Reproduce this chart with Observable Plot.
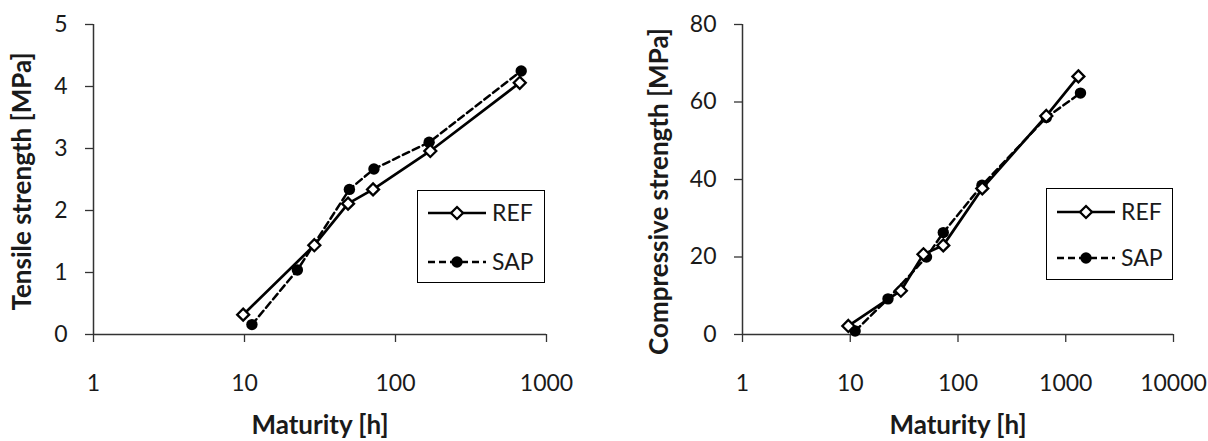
<!DOCTYPE html>
<html><head><meta charset="utf-8">
<script src="https://cdn.jsdelivr.net/npm/d3@7"></script>
<script src="https://cdn.jsdelivr.net/npm/@observablehq/plot@0.6"></script>
<style>
body{margin:0;background:#fff;}
#wrap{position:relative;width:1208px;height:441px;font-family:Lato,sans-serif;overflow:hidden;}
.panel{position:absolute;top:0;}
.legend{position:absolute;border:1.5px solid #000;background:#fff;box-sizing:border-box;}
.legend svg{display:block;}
</style>
</head><body>
<div id="wrap"></div>
<script>
// ---- data ----
const seriesNames = ["REF", "SAP"];
const tensileRefX = [9.8, 29, 48.5, 71, 170, 665];
const tensileRefY = [0.32, 1.44, 2.11, 2.34, 2.96, 4.06];
const tensileSapX = [11.2, 22.4, 49.5, 72, 167, 680];
const tensileSapY = [0.16, 1.04, 2.34, 2.67, 3.10, 4.25];

const compRefX = [9.6, 29.5, 47.8, 73, 168, 660, 1310];
const compRefY = [2.2, 11.3, 20.7, 23.0, 37.7, 56.4, 66.6];
const compSapX = [11.1, 22.4, 51, 73, 167, 660, 1370];
const compSapY = [0.9, 9.2, 20.0, 26.3, 38.5, 56.0, 62.3];

const xTicksLeft = [1, 10, 100, 1000];
const xTicksRight = [1, 10, 100, 1000, 10000];
const yTicksLeft = [0, 1, 2, 3, 4, 5];
const yTicksRight = [0, 20, 40, 60, 80];

const xLabel = "Maturity [h]";
const yLabelLeft = "Tensile strength [MPa]";
const yLabelRight = "Compressive strength [MPa]";

function rows(xs, ys, s) { return xs.map((x, i) => ({x, y: ys[i], s})); }

const wrap = document.getElementById("wrap");
const AX = "#333";
const TXT = "#1a1a1a";

function panel({left, width, marginLeft, marginRight, xDomain, xTicks, yDomain, yTicks, ref, sap, yLabel, yLabDx, yLabDy}) {
  const chart = Plot.plot({
    width, height: 441,
    marginLeft, marginRight, marginTop: 24, marginBottom: 107,
    style: {fontFamily: "Lato, sans-serif", fontSize: "23px", color: TXT, background: "#fff", overflow: "visible"},
    x: {type: "log", domain: xDomain, ticks: xTicks, tickFormat: d => String(d)},
    y: {domain: yDomain, ticks: yTicks, tickFormat: d => String(d)},
    marks: [
      Plot.axisX({ticks: xTicks, tickFormat: d => String(d), tickSize: 8, tickPadding: 32, label: null, stroke: AX, strokeWidth: 1.3}),
      Plot.axisY({ticks: yTicks, tickFormat: d => String(d), tickSize: 8, tickPadding: 18, label: null, stroke: AX, strokeWidth: 1.3}),
      Plot.ruleY([yDomain[0]], {stroke: AX, strokeWidth: 1.5}),
      Plot.ruleX([xDomain[0]], {stroke: AX, strokeWidth: 1.5}),
      Plot.line(sap, {x: "x", y: "y", stroke: "#000", strokeWidth: 2.5, strokeDasharray: "7,4"}),
      Plot.line(ref, {x: "x", y: "y", stroke: "#000", strokeWidth: 2.7}),
      Plot.dot(sap, {x: "x", y: "y", r: 5.7, fill: "#000", stroke: "none"}),
      Plot.dot(ref, {x: "x", y: "y", r: 5.4, symbol: "diamond2", fill: "#fff", stroke: "#000", strokeWidth: 2.3}),
      Plot.text([yLabel], {text: d => d, frameAnchor: "left", textAnchor: "middle", lineAnchor: "middle", dx: yLabDx, dy: yLabDy, rotate: -90, fontWeight: "bold", fontSize: 26, fill: TXT}),
      Plot.text([xLabel], {text: d => d, frameAnchor: "bottom", textAnchor: "middle", lineAnchor: "middle", dy: 91, fontWeight: "bold", fontSize: 26, fill: TXT})
    ]
  });
  chart.classList.add("panel");
  chart.style.left = left + "px";
  wrap.appendChild(chart);
}

panel({left: 0, width: 604, marginLeft: 93, marginRight: 58,
  xDomain: [1, 1000], xTicks: xTicksLeft, yDomain: [0, 5], yTicks: yTicksLeft,
  ref: rows(tensileRefX, tensileRefY, "REF"), sap: rows(tensileSapX, tensileSapY, "SAP"),
  yLabel: yLabelLeft, yLabDx: -71, yLabDy: 2});

panel({left: 604, width: 604, marginLeft: 138, marginRight: 35,
  xDomain: [1, 10000], xTicks: xTicksRight, yDomain: [0, 80], yTicks: yTicksRight,
  ref: rows(compRefX, compRefY, "REF"), sap: rows(compSapX, compSapY, "SAP"),
  yLabel: yLabelRight, yLabDx: -83, yLabDy: 12});

function legend(left, top, w, h, row1, row2) {
  const div = document.createElement("div");
  div.className = "legend";
  Object.assign(div.style, {left: left + "px", top: top + "px", width: w + "px", height: h + "px"});
  const svg = d3.create("svg").attr("width", w - 3).attr("height", h - 3);
  const diamond = d3.symbol(d3.symbolDiamond2, Math.PI * 5.4 * 5.4)();
  [[row1, "REF"], [row2, "SAP"]].forEach(([cy, name], i) => {
    const g = svg.append("g");
    g.append("line").attr("x1", 10).attr("x2", 68).attr("y1", cy).attr("y2", cy)
      .attr("stroke", "#000").attr("stroke-width", i === 0 ? 2.7 : 2.5)
      .attr("stroke-dasharray", i === 0 ? null : "7,4");
    if (i === 0) {
      g.append("path").attr("d", diamond).attr("transform", `translate(39,${cy})`)
        .attr("fill", "#fff").attr("stroke", "#000").attr("stroke-width", 2.3);
    } else {
      g.append("circle").attr("cx", 39).attr("cy", cy).attr("r", 5.7).attr("fill", "#000");
    }
    g.append("text").attr("x", 74).attr("y", cy).attr("dy", "0.35em")
      .attr("font-family", "Lato, sans-serif").attr("font-size", 23).attr("fill", TXT)
      .text(seriesNames[i]);
  });
  div.appendChild(svg.node());
  wrap.appendChild(div);
}
legend(417, 190, 128, 93, 22, 71);
legend(1046, 188, 127, 92, 23, 69);
</script>
</body></html>
